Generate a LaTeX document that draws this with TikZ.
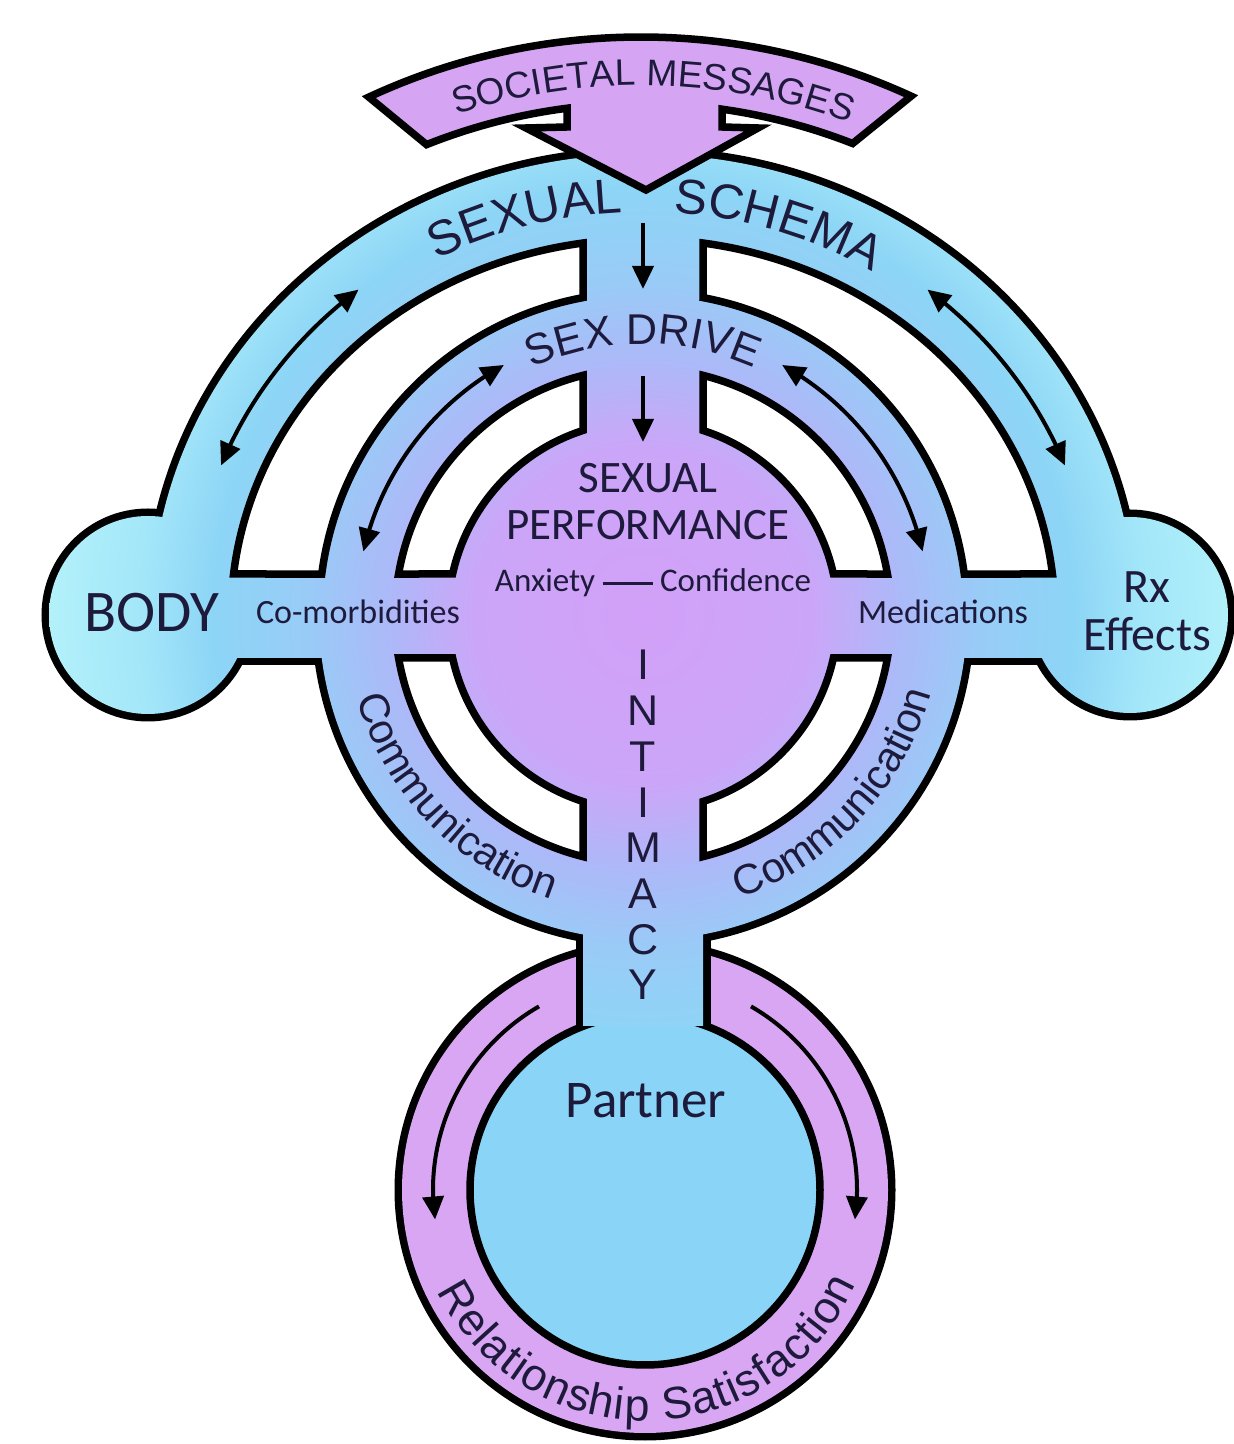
\documentclass[tikz,border=0pt]{standalone}
\usepackage{fontspec}
\setmainfont{Liberation Sans}
\newfontfamily\calib{Carlito}
\usetikzlibrary{decorations.text,arrows.meta,bending}
\definecolor{txt}{HTML}{1D1A3B}
\definecolor{c0}{HTML}{D2A0F8}
\definecolor{c1}{HTML}{CBA6F8}
\definecolor{c2}{HTML}{ABBAF8}
\definecolor{c3}{HTML}{98CCF7}
\definecolor{c4}{HTML}{8DD5F6}
\definecolor{c5}{HTML}{A2E6F9}
\definecolor{c6}{HTML}{B4F2FA}
\definecolor{pinkc}{HTML}{D8A6F3}
\definecolor{bannerc}{HTML}{D5A5F4}
\definecolor{partnerc}{HTML}{8AD5F7}
\pgfdeclareradialshading{mainshade}{\pgfpoint{0bp}{0bp}}{color(0bp)=(c0); color(6.85bp)=(c1); color(10.48bp)=(c2); color(13.7bp)=(c3); color(17.34bp)=(c4); color(20.16bp)=(c5); color(24.19bp)=(c6); color(50bp)=(c6)}
% pieces of the silhouette
\def\pOuter{(151,828) arc[start angle=180, end angle=0, x radius=492, y radius=462] -- cycle}
\def\pBody{(148,829) circle (99)}
\def\pRx{(1130,829) circle (98)}
\def\pHband{(148,786) rectangle (1130,870)}
\def\pMid{(643,828) circle (324)}
\def\pVband{(583,418) rectangle (703,1250)}
\newcommand{\shadepiece}[1]{\begin{scope}\clip #1;\shade[shading=mainshade] (643,828) circle (620);\end{scope}}
\newcommand{\myslot}[2]{({180-acos(60/#2)}:#2) arc[start angle={180-acos(60/#2)}, end angle={180-asin(42/#2)}, radius=#2] -- ({180-asin(42/#1)}:#1) arc[start angle={180-asin(42/#1)}, end angle={180-acos(60/#1)}, radius=#1] -- cycle}
\newcommand{\myoslot}{(-60,{377*sin(180-acos(60/412))}) arc[start angle={180-acos(60/412)}, end angle={180-asin(42/377)}, x radius=412, y radius=377] -- ({180-asin(42/324)}:324) arc[start angle={180-asin(42/324)}, end angle={180-acos(60/324)}, radius=324] -- cycle}
\begin{document}
\begin{tikzpicture}[x=1pt,y=1pt,
  outl/.style={line width=7.5pt, draw=black},
  under/.style={fill=black, draw=black, line width=15pt},
  arr/.style={line width=4pt, draw=black, -{Triangle[length=23pt,width=21pt]}},
  darr/.style={line width=4pt, draw=black, {Triangle[length=23pt,width=21pt]}-{Triangle[length=23pt,width=21pt]}},
  lbl/.style={text=txt, inner sep=0pt, anchor=base},
  curv/.style={decorate, decoration={text along path, text color=txt, text align=#1}}]
\useasboundingbox (0,0) rectangle (1234,1444);

% pink ring (relationship satisfaction)
\path[under] (645,254) circle (243);
\fill[pinkc] (645,254) circle (243);

% black under layer of the main silhouette
\path[under] \pOuter;
\path[under] \pBody;
\path[under] \pRx;
\path[under] \pHband;
\path[under] \pMid;
\path[under] \pVband;

% partner disk
\fill[partnerc] (645,254) circle (175);
\draw[outl] (645,254) circle (175);

% shaded fill
\shadepiece{\pOuter}
\shadepiece{\pBody}
\shadepiece{\pRx}
\shadepiece{\pHband}
\shadepiece{\pMid}
\shadepiece{\pVband}

% white slots
\begin{scope}[shift={(643,828)}]
  \draw[outl, fill=white] \myslot{195}{248};
  \draw[outl, fill=white, xscale=-1] \myslot{195}{248};
  \draw[outl, fill=white, yscale=-1] \myslot{195}{248};
  \draw[outl, fill=white, scale=-1] \myslot{195}{248};
  \draw[outl, fill=white] \myoslot;
  \draw[outl, fill=white, xscale=-1] \myoslot;
\end{scope}

% societal messages banner
\begin{scope}[shift={(641,760.5)}]
  \draw[outl, fill=bannerc, line join=miter] (114.9:646.5) arc[start angle=114.9, end angle=65.3, radius=646.5] -- (68.6:580) arc[start angle=68.6, end angle=81.97, radius=580] -- (81,556.5) -- (117,555.5) -- (5,493.5) -- (-115,555.5) -- (-74,556.5) -- (97.33:580) arc[start angle=97.33, end angle=111.7, radius=580] -- cycle;
  \path[curv=fit to path, decoration={text={|\fontsize{37}{37}\selectfont|SOCIETAL MESSAGES}}] (108:598) arc[start angle=108, end angle=70, radius=598];
\end{scope}

% curved texts and arrows around the centre
\begin{scope}[shift={(643,828)}]
  \path[curv=center, decoration={text={|\fontsize{49}{49}\selectfont|SEXUAL}}] ({437*cos(130)},{404*sin(130)}) arc[start angle=130, end angle=81, x radius=437, y radius=404];
  \path[curv=center, decoration={text={|\fontsize{49}{49}\selectfont|SCHEMA}}] ({437*cos(97)},{404*sin(97)}) arc[start angle=97, end angle=47, x radius=437, y radius=404];
  \path[curv=center, decoration={text={|\fontsize{43}{43}\selectfont|SEX DRIVE}}] (140:272) arc[start angle=140, end angle=40, radius=272];
  \path[curv=center, decoration={text={|\fontsize{42}{42}\selectfont|Communication}}] (185:298) arc[start angle=185, end angle=263, radius=298];
  \path[curv=center, decoration={text={|\fontsize{42}{42}\selectfont|Communication}}] (-82:298) arc[start angle=-82, end angle=-4, radius=298];
  \draw[darr] ({452*cos(129)},{420*sin(129)}) arc[start angle=129, end angle=159, x radius=452, y radius=420];
  \draw[darr] ({452*cos(51)},{420*sin(51)}) arc[start angle=51, end angle=21, x radius=452, y radius=420];
  \draw[darr] (119:287) arc[start angle=119, end angle=167, radius=287];
  \draw[darr] (61:287) arc[start angle=61, end angle=13, radius=287];
\end{scope}

% relationship satisfaction ring
\begin{scope}[shift={(645,254)}]
  \path[curv=fit to path, decoration={text={|\fontsize{45}{45}\selectfont|Relationship Satisfaction}}] (206:231) arc[start angle=206, end angle=336, radius=231];
  \draw[arr] (120:212) arc[start angle=120, end angle=188, radius=212];
  \draw[arr] (60:212) arc[start angle=60, end angle=-8, radius=212];
\end{scope}

% straight arrows down the middle
\coordinate (a1s) at (643,1221);
\coordinate (a1e) at (643,1155);
\coordinate (a2s) at (643,1068);
\coordinate (a2e) at (643,1002);
\draw[arr] (a1s) -- (a1e);
\draw[arr] (a2s) -- (a2e);

% labels
\node[lbl, font=\calib\fontsize{59}{59}\selectfont] (body) at (152,812) {BODY};
\node[lbl, font=\calib\fontsize{34}{34}\selectfont] (como) at (358,820) {Co-morbidities};
\node[lbl, font=\calib\fontsize{34}{34}\selectfont] (meds) at (943,820) {Medications};
\node[lbl, font=\calib\fontsize{48}{48}\selectfont] (rx) at (1147,841) {Rx};
\node[lbl, font=\calib\fontsize{48}{48}\selectfont] (eff) at (1147,793) {Effects};
\node[lbl, font=\calib\fontsize{45}{45}\selectfont] (sex) at (648,951) {SEXUAL};
\node[lbl, font=\calib\fontsize{45}{45}\selectfont] (perf) at (648,904) {PERFORMANCE};
\node[lbl, font=\calib\fontsize{33}{33}\selectfont] (anx) at (653,852) {Anxiety \rule[7pt]{50pt}{2.5pt} Confidence};
\node[lbl, font=\calib\fontsize{53}{53}\selectfont] (partner) at (646,326) {Partner};
\foreach \l [count=\i from 0] in {I,N,T,I,M,A,C,Y}
  \node[lbl, font=\fontsize{43}{43}\selectfont] (int\i) at (643,{764-45.7*\i}) {\l};
\end{tikzpicture}
\end{document}
